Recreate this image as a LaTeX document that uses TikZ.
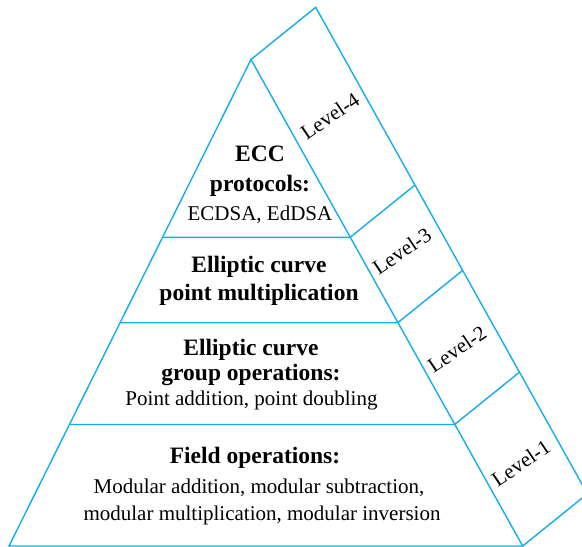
\documentclass[tikz,border=0pt]{standalone}
\usepackage{fontspec}
\usetikzlibrary{calc}
\setmainfont{Liberation Serif}
\definecolor{edge}{RGB}{20,172,236}
\begin{document}
\begin{tikzpicture}[x=1pt,y=-1pt,
  frame/.style={draw=edge,line width=1.4pt,line join=miter},
  head/.style={font=\fontsize{23.5}{28}\selectfont\bfseries,anchor=base,inner sep=0pt},
  body/.style={font=\fontsize{21}{25}\selectfont,anchor=base,inner sep=0pt},
  lvl/.style={font=\fontsize{21}{25}\selectfont,rotate=34,inner sep=0pt}]
\useasboundingbox (0,0) rectangle (582,547);
\clip (0,0) rectangle (582,547);
% pyramid corners
\coordinate (apex) at (251,59.5);
\coordinate (bl) at (9,546);
\coordinate (br) at (522.7,546);
% band offset direction: (64.7,-52.2)
\coordinate (top) at (315.7,7.3);
\coordinate (bandbr) at (587.4,493.8);
% level boundaries on the left and right sides
\coordinate (l1) at (69.6,424.5);
\coordinate (r1) at (454.6,424.5);
\coordinate (l2) at (120.2,322.7);
\coordinate (r2) at (397.8,322.7);
\coordinate (l3) at (162.7,237.3);
\coordinate (r3) at (350.2,237.3);
\coordinate (s1) at ($(r1)+(64.7,-52.2)$);
\coordinate (s2) at ($(r2)+(64.7,-52.2)$);
\coordinate (s3) at ($(r3)+(64.7,-52.2)$);
% outline of the pyramid and the side band
\draw[frame] (bl) -- (apex) -- (br) -- cycle;
\draw[frame] (apex) -- (top) -- (bandbr) -- (br);
\draw[frame] (l1) -- (r1) -- (s1);
\draw[frame] (l2) -- (r2) -- (s2);
\draw[frame] (l3) -- (r3) -- (s3);
% level 4
\node[head] (t4a) at (260,161.7) {ECC};
\node[head] (t4b) at (260,191.7) {protocols:};
\node[body] (t4c) at (260,220) {ECDSA, EdDSA};
% level 3
\node[head] (t3a) at (259,272.3) {Elliptic curve};
\node[head] (t3b) at (259,300) {point multiplication};
% level 2
\node[head] (t2a) at (251,355) {Elliptic curve};
\node[head] (t2b) at (251,380) {group operations:};
\node[body] (t2c) at (251.5,405) {Point addition, point doubling};
% level 1
\node[head] (t1a) at (255,463) {Field operations:};
\node[body] (t1b) at (259,493) {Modular addition, modular subtraction,};
\node[body] (t1c) at (262,520) {modular multiplication, modular inversion};
% side labels
\node[lvl] (v4) at (330,116) {Level-4};
\node[lvl] (v3) at (402,251) {Level-3};
\node[lvl] (v2) at (457,349) {Level-2};
\node[lvl] (v1) at (521,463) {Level-1};
\end{tikzpicture}
\end{document}
